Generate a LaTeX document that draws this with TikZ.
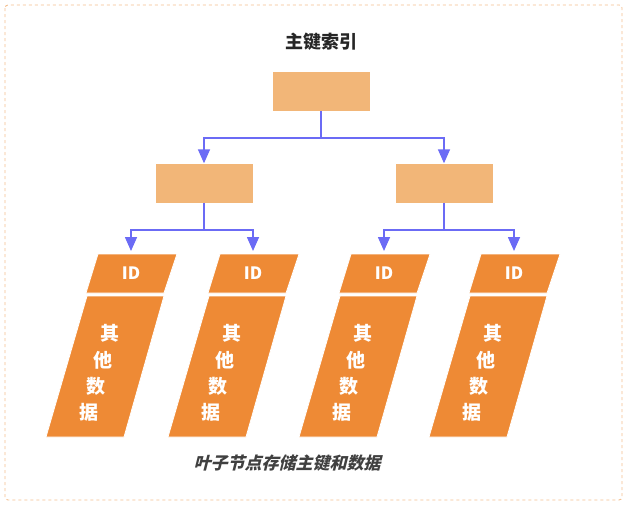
\documentclass[tikz,border=0pt]{standalone}
\usepackage{fontspec}
\setmainfont{Noto Sans CJK SC}
\newfontfamily\capfont[FakeSlant=0.25]{Noto Sans CJK SC}
\usetikzlibrary{arrows.meta}
\definecolor{lbox}{HTML}{F2B678}
\definecolor{leaf}{HTML}{EE8A35}
\definecolor{conn}{HTML}{6B6BF5}
\definecolor{frame}{HTML}{F3BE8E}
\tikzset{
  box/.style={fill=lbox,draw=none,minimum width=97pt,minimum height=39pt,inner sep=0},
  ln/.style={draw=conn,line width=1.6pt},
  con/.style={ln,-{Triangle[width=12pt,length=14pt]}},
  lf/.style={fill=leaf,draw=white,line width=0.8pt},
  wt/.style={text=white,font=\bfseries\fontsize{19}{19}\selectfont},
}
\begin{document}
\begin{tikzpicture}[x=1pt,y=-1pt]
\useasboundingbox (0,0) rectangle (628,506);
\draw[frame,dashed,line width=0.9pt,rounded corners=3pt] (5,5) rectangle (622,500);
\node[font=\bfseries\fontsize{18}{18}\selectfont,text=black!85] (title) at (321,42) {主键索引};
\node[box] (root) at (321,91.5) {};
\node[box] (ml) at (204,183) {};
\node[box] (mr) at (444,183) {};
\coordinate (j0) at (321,138);
\coordinate (j1) at (204,230);
\coordinate (j2) at (444,230);
\draw[ln] (root.south) -- (j0);
\draw[con] (j0) -| (ml.north);
\draw[con] (j0) -| (mr.north);
\draw[ln] (ml.south) -- (j1);
\draw[ln] (mr.south) -- (j2);
\foreach \i/\o in {1/0,2/122,3/253,4/383}{
  \begin{scope}[xshift=\o]
    \path[lf] (98,254) -- (177,254) -- (164,293) -- (86,293) -- cycle;
    \path[lf] (87,296) -- (164,296) -- (124,437) -- (46,437) -- cycle;
    \node[wt,font=\bfseries\fontsize{17}{17}\selectfont] (id\i) at (131,273) {ID};
    \coordinate (t\i) at (131,251);
    \node[wt] (c1\i) at (110,333) {其};
    \node[wt] (c2\i) at (103,360) {他};
    \node[wt] (c3\i) at (96,386) {数};
    \node[wt] (c4\i) at (89,412) {据};
  \end{scope}
}
\draw[con] (j1) -| (t1);
\draw[con] (j1) -| (t2);
\draw[con] (j2) -| (t3);
\draw[con] (j2) -| (t4);
\node[font=\capfont\bfseries\fontsize{17}{17}\selectfont,text=black!75] (cap) at (287,463) {叶子节点存储主键和数据};
\end{tikzpicture}
\end{document}
